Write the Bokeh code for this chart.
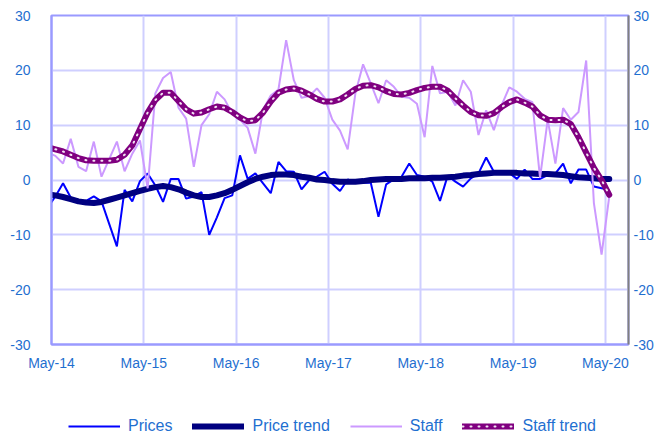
import pandas as pd
from bokeh.plotting import figure
from bokeh.layouts import column
from bokeh.models import Range1d, FixedTicker, LinearAxis, Legend, LegendItem, ColumnDataSource
from bokeh.embed import file_html
from bokeh.resources import INLINE

# Monthly observations, Apr-14 .. May-20 (first point sits just left of the axis start)
months = pd.date_range("2014-04-01", "2020-05-01", freq="MS").strftime("%b-%y").tolist()

prices = [-5.0, -3.0, -0.6, -3.2, -4.0, -3.8, -3.0, -3.9, -8.0, -12.1, -1.8, -3.9, -0.2, 1.2,
          -1.0, -4.0, 0.2, 0.2, -3.4, -3.0, -2.2, -10.0, -6.8, -3.3, -2.8, 4.5, 0.2, 1.2,
          -0.6, -2.4, 3.3, 1.6, 1.5, -1.7, 0.0, 0.6, 1.5, -0.7, -2.0, 0.1, -0.5, -0.5,
          -0.5, -6.7, -0.8, 0.1, 0.6, 3.0, 0.9, 0.6, -0.3, -3.8, 0.8, -0.3, -1.2, 0.3,
          1.2, 4.1, 1.5, 1.5, 1.3, 0.2, 1.9, 0.2, 0.2, 0.9, 1.2, 3.0, -0.6, 1.9,
          1.9, -1.2, -1.5, -1.8]

price_trend = [-2.6, -2.8, -3.1, -3.5, -3.9, -4.1, -4.2, -4.0, -3.6, -3.2, -2.8, -2.4, -2.0, -1.6,
               -1.3, -1.1, -1.3, -1.7, -2.3, -2.8, -3.1, -3.1, -2.8, -2.4, -1.8, -1.1, -0.4, 0.2,
               0.6, 0.9, 1.0, 1.0, 0.9, 0.6, 0.4, 0.1, 0.0, -0.2, -0.3, -0.3, -0.3, -0.2,
               0.0, 0.1, 0.2, 0.2, 0.2, 0.3, 0.3, 0.3, 0.4, 0.4, 0.5, 0.6, 0.8, 0.9,
               1.1, 1.2, 1.3, 1.3, 1.3, 1.3, 1.2, 1.2, 1.1, 1.1, 1.0, 0.9, 0.7, 0.5,
               0.4, 0.3, 0.2, 0.2]

staff = [5.0, 4.4, 3.0, 7.5, 2.4, 1.6, 7.0, 0.6, 3.8, 7.0, 1.6, 4.8, 7.2, -1.5,
         15.8, 18.6, 19.7, 13.2, 11.2, 2.4, 10.0, 12.0, 16.1, 14.7, 12.1, 11.0, 9.5, 4.8,
         12.8, 15.4, 16.5, 25.5, 18.2, 15.0, 15.3, 16.7, 15.0, 11.0, 9.0, 5.6, 15.8, 21.1,
         17.6, 14.0, 18.2, 17.0, 15.2, 15.0, 13.9, 7.8, 20.8, 15.8, 16.1, 13.6, 18.2, 16.1,
         8.2, 12.7, 9.1, 13.6, 16.9, 16.1, 14.8, 14.2, 0.4, 11.0, 3.0, 13.1, 11.0, 12.4,
         21.8, -4.2, -13.6, -3.0]

staff_trend = [6.0, 5.6, 5.2, 4.6, 4.0, 3.6, 3.5, 3.5, 3.5, 3.7, 4.6, 6.3, 9.3, 12.3,
               14.6, 15.9, 15.9, 14.4, 12.9, 12.1, 12.3, 12.9, 13.4, 13.2, 12.4, 11.4, 10.7, 10.9,
               12.3, 14.3, 15.9, 16.5, 16.7, 16.3, 15.6, 14.8, 14.3, 14.3, 14.7, 15.6, 16.6, 17.2,
               17.3, 16.9, 16.2, 15.7, 15.6, 15.9, 16.4, 16.8, 17.0, 17.0, 16.3, 14.9, 13.6, 12.4,
               11.8, 11.7, 12.2, 13.3, 14.2, 14.7, 14.1, 13.4, 11.8, 11.0, 10.9, 11.0, 10.2, 7.8,
               5.0, 2.2, 0.0, -2.7]

tick_labels = ["May-14", "May-15", "May-16", "May-17", "May-18", "May-19", "May-20"]
y_ticks = [-30, -20, -10, 0, 10, 20, 30]
y_tick_labels = ["-30", "-20", "-10", "0", "10", "20", "30"]
series_names = ["Prices", "Price trend", "Staff", "Staff trend"]

# month position on the axis: months since May-14, plotted mid-month
xpos = [i - 1 + 0.5 for i in range(len(months))]
src = ColumnDataSource(dict(x=xpos, month=months, prices=prices, price_trend=price_trend,
                            staff=staff, staff_trend=staff_trend))

FONT = "Liberation Sans"
LABEL = "#1F6FD0"
FRAME = "#9A9AFF"
GRID = "#CFCFFF"

STYLES = {
    "prices": dict(line_color="#0000FF", line_width=2),
    "price_trend": dict(line_color="#000080", line_width=6, line_cap="round", line_join="round"),
    "staff": dict(line_color="#CC99FF", line_width=2),
    "staff_trend": dict(line_color="#800080", line_width=6, line_cap="round", line_join="round"),
    "staff_dots": dict(line_color="#F2E2F2", line_width=2, line_dash="1 7", line_cap="round"),
}

# ---------------- main chart ----------------
p = figure(width=668, height=373, x_range=Range1d(0, 75), y_range=Range1d(-30, 30),
           output_backend="svg", toolbar_location=None,
           min_border_left=51, min_border_right=40, min_border_top=15, min_border_bottom=28)
p.background_fill_color = "white"
p.border_fill_color = "white"
p.outline_line_color = FRAME
p.outline_line_width = 2

x_ticks = [12 * k for k in range(len(tick_labels))]
xa = p.xaxis[0]
xa.ticker = FixedTicker(ticks=x_ticks)
xa.major_label_overrides = {t: lab for t, lab in zip(x_ticks, tick_labels)}
ya = p.yaxis[0]
ya.ticker = FixedTicker(ticks=y_ticks)
ra = LinearAxis(ticker=FixedTicker(ticks=y_ticks))
p.add_layout(ra, "right")
for ax in (ya, ra):
    ax.major_label_overrides = {t: lab for t, lab in zip(y_ticks, y_tick_labels)}

for ax in (xa, ya, ra):
    ax.major_tick_line_color = None
    ax.minor_tick_line_color = None
    ax.major_tick_out = 0
    ax.major_tick_in = 0
    ax.major_label_text_font = FONT
    ax.major_label_text_font_size = "14px"
    ax.major_label_text_color = LABEL
xa.axis_line_color = FRAME
xa.axis_line_width = 2
ya.axis_line_color = FRAME
ya.axis_line_width = 2
ra.axis_line_color = "#808080"
ra.axis_line_width = 2
xa.major_label_standoff = 10
ya.major_label_standoff = 21
ra.major_label_standoff = 5

p.xgrid.ticker = FixedTicker(ticks=x_ticks[1:])
p.ygrid.ticker = FixedTicker(ticks=[-20, -10, 0, 10, 20])
for g in (p.xgrid[0], p.ygrid[0]):
    g.grid_line_color = GRID
    g.grid_line_width = 2

p.line("x", "prices", source=src, **STYLES["prices"])
p.line("x", "price_trend", source=src, **STYLES["price_trend"])
p.line("x", "staff", source=src, **STYLES["staff"])
p.line("x", "staff_trend", source=src, **STYLES["staff_trend"])
p.line("x", "staff_trend", source=src, **STYLES["staff_dots"])

# ---------------- legend strip (its own frame is aligned with the chart's) ----------------
# The proxy lines below use the same data but sit outside this strip's ranges, so only
# their legend swatches show.
lg = figure(width=668, height=62, x_range=Range1d(0, 75), y_range=Range1d(1000, 1001),
            output_backend="svg", toolbar_location=None,
            min_border_left=0, min_border_right=0, min_border_top=0, min_border_bottom=0)
lg.xaxis.visible = False
lg.yaxis.visible = False
lg.xgrid.visible = False
lg.ygrid.visible = False
lg.outline_line_color = None
lg.background_fill_color = "white"
lg.border_fill_color = "white"
l1 = lg.line("x", "prices", source=src, **STYLES["prices"])
l2 = lg.line("x", "price_trend", source=src, **STYLES["price_trend"])
l3 = lg.line("x", "staff", source=src, **STYLES["staff"])
l4 = lg.line("x", "staff_trend", source=src, **STYLES["staff_trend"])
l5 = lg.line("x", "staff_trend", source=src, **STYLES["staff_dots"])

legend = Legend(items=[
    LegendItem(label=series_names[0], renderers=[l1]),
    LegendItem(label=series_names[1], renderers=[l2]),
    LegendItem(label=series_names[2], renderers=[l3]),
    LegendItem(label=series_names[3], renderers=[l4, l5]),
], orientation="horizontal", location=(17, 0), padding=0, spacing=20, margin=0,
   glyph_width=52, glyph_height=16, label_standoff=8,
   label_text_font=FONT, label_text_font_size="16px", label_text_color=LABEL,
   border_line_color=None, background_fill_alpha=0)
lg.add_layout(legend, "center")

layout = column(p, lg, spacing=0)
open("out.html", "w").write(file_html(layout, INLINE))
